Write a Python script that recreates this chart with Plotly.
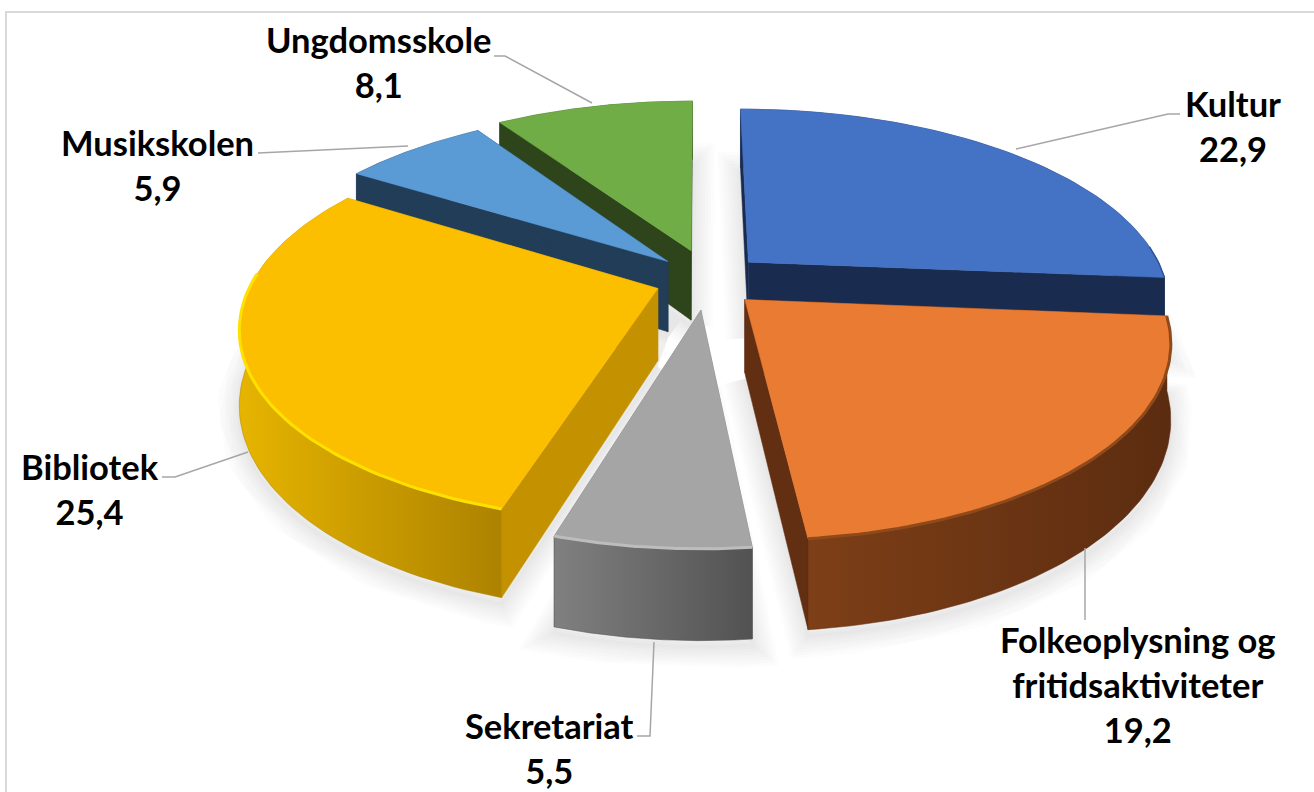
import numpy as np
import plotly.graph_objects as go

# ---- data ----
categories = ["Kultur", "Folkeoplysning og<br>fritidsaktiviteter", "Sekretariat",
              "Bibliotek", "Musikskolen", "Ungdomsskole"]
values = [22.9, 19.2, 5.5, 25.4, 5.9, 8.1]

# ---- styles (one entry per slice) ----
offset_x = [0.118, 0.105, 0.002, -0.100, -0.078, -0.022]
offset_y = [-0.122, 0.075, 0.128, 0.018, -0.125, -0.185]
radius = [1.0, 0.975, 0.95, 0.97, 1.0, 1.0]
top_colors = ["#4472C4", "#E97B32", "#A5A5A5", "#FBBF00", "#5B9BD5", "#70AD47"]
face_colors = ["#1A2B50", "#632F12", "#7A7A7A", "#C49200", "#223D58", "#2E451B"]
wall_left = ["#1F3864", "#7D3F17", "#808080", "#E6B400", "#2A4A6B", "#3A5A22"]
wall_right = ["#1F3864", "#5C2C10", "#525252", "#AD8200", "#2A4A6B", "#3A5A22"]
rim_colors = ["#2F5597", "#8F4A1C", "#BDBDBD", "#FFE100", "#5B9BD5", "#70AD47"]
rim_widths = [1.5, 3, 3, 3, 0, 0]
draw_order = [5, 4, 0, 3, 1, 2]

# ---- projection ----
CX, CY, R, A, C, H = 700, 285, 420, 192, 0.2, 72


def project(gx, gy, z=0.0):
    d = 1 - C * gy
    return CX + R * gx / d, CY + (A * gy + H * z) / d


total = sum(values)
edges = np.cumsum([0] + values) / total * 2 * np.pi
fig = go.Figure()


def add(x, y, **kw):
    fig.add_trace(go.Scatter(x=x, y=y, mode=kw.pop("mode", "lines"), hoverinfo="skip",
                             showlegend=False, **kw))


def wedge(i):
    a0, a1 = edges[i], edges[i + 1]
    ox, oy = offset_x[i], offset_y[i]
    t = np.linspace(a0, a1, 70)
    return ox, oy, t, ox + radius[i] * np.sin(t), oy - radius[i] * np.cos(t)


# soft drop shadows below every slice
for i in range(len(values)):
    ox, oy, t, gx, gy = wedge(i)
    sx, sy = project(np.r_[ox, gx, ox], np.r_[oy, gy, oy], 1.0)
    sy = sy + 6
    for w in (44, 38, 32, 26, 20, 14, 8, 3):
        add(sx, sy, line=dict(color="rgba(0,0,0,0.012)", width=w))

for i in draw_order:
    ox, oy, t, gx, gy = wedge(i)
    tx, ty = project(gx, gy, 0)
    bx, by = project(gx, gy, 1)
    ax0, ay0 = project(ox, oy, 0)
    ax1, ay1 = project(ox, oy, 1)

    def draw_wall():
        add(np.r_[tx, bx[::-1], tx[0]], np.r_[ty, by[::-1], ty[0]], fill="toself",
            fillgradient=dict(type="horizontal",
                              colorscale=[[0, wall_left[i]], [1, wall_right[i]]]),
            line=dict(color=wall_right[i], width=0.5))

    def draw_faces():
        add([ax0, tx[0], bx[0], ax1, ax0], [ay0, ty[0], by[0], ay1, ay0], fill="toself",
            fillcolor=face_colors[i], line=dict(color=face_colors[i], width=0.5))
        add([ax0, tx[-1], bx[-1], ax1, ax0], [ay0, ty[-1], by[-1], ay1, ay0], fill="toself",
            fillcolor=face_colors[i], line=dict(color=face_colors[i], width=0.5))

    # slices at the front show their wall over the faces, slices at the back the reverse
    if np.pi / 2 < (edges[i] + edges[i + 1]) / 2 < 1.5 * np.pi:
        draw_faces()
        draw_wall()
    else:
        draw_wall()
        draw_faces()
    # top
    add(np.r_[ax0, tx, ax0], np.r_[ay0, ty, ay0], fill="toself",
        fillcolor=top_colors[i], line=dict(color=top_colors[i], width=0.5))
    # bevel highlight on the front part of the rim
    if rim_widths[i]:
        front = np.cos(t) < 0.1
        add(tx[front], ty[front], line=dict(color=rim_colors[i], width=rim_widths[i]))

# ---- labels and leader lines ----
label_xy = [(1233, 126), (1138, 684), (549, 748), (90, 489), (157, 165), (378, 62)]
leaders = [
    [(1016, 149), (1168, 114), (1180, 114)],
    [(1085, 548), (1085, 620)],
    [(654, 642), (650, 736), (637, 736)],
    [(248, 452), (175, 477), (162, 477)],
    [(408, 146), (258, 153)],
    [(592, 103), (505, 56), (494, 56)],
]
for pts in leaders:
    xs, ys = zip(*pts)
    add(list(xs), list(ys), line=dict(color="#A6A6A6", width=1.5))

for name, val, (lx, ly) in zip(categories, values, label_xy):
    fig.add_annotation(x=lx, y=ly, text=f"<b>{name}<br>{str(val).replace('.', ',')}</b>",
                       showarrow=False, xanchor="center", yanchor="middle",
                       font=dict(family="Lato", size=34.5, color="#000000"))

fig.update_layout(
    width=1314, height=792, margin=dict(l=0, r=0, t=0, b=0),
    paper_bgcolor="white", plot_bgcolor="white", showlegend=False,
    xaxis=dict(range=[0, 1314], visible=False, fixedrange=True),
    yaxis=dict(range=[792, 0], visible=False, fixedrange=True),
    shapes=[dict(type="rect", xref="x", yref="y", x0=6, y0=12, x1=1330, y1=810,
                 line=dict(color="#D9D9D9", width=2), layer="below")],
)
fig.write_html("out.html", config={"displayModeBar": False},
               post_script="document.body.style.margin='0';")
